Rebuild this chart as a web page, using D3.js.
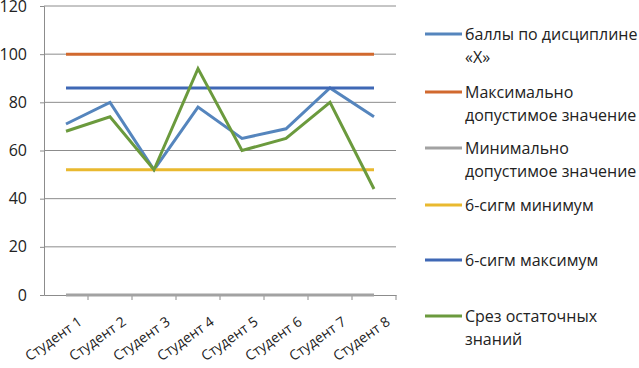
<!DOCTYPE html>
<html>
<head>
<meta charset="utf-8">
<script src="https://cdn.jsdelivr.net/npm/d3@7"></script>
<style>
  body { margin: 0; background: #fff; }
  text { font-family: "Open Sans", sans-serif; fill: #222; }
</style>
</head>
<body>
<svg id="chart" width="639" height="368"></svg>
<script>
const students = ['Студент 1', 'Студент 2', 'Студент 3', 'Студент 4', 'Студент 5', 'Студент 6', 'Студент 7', 'Студент 8']
const yTicks = [0, 20, 40, 60, 80, 100, 120]

const scores = [71, 80, 52, 78, 65, 69, 86, 74]
const maxAllowed = [100, 100, 100, 100, 100, 100, 100, 100]
const minAllowed = [0, 0, 0, 0, 0, 0, 0, 0]
const sigmaMin = [52, 52, 52, 52, 52, 52, 52, 52]
const sigmaMax = [86, 86, 86, 86, 86, 86, 86, 86]
const residual = [68, 74, 52, 94, 60, 65, 80, 44]

const series = [
  { name: ['баллы по дисциплине', '«Х»'], values: scores, color: '#5585bd', ly: 34 },
  { name: ['Максимально', 'допустимое значение'], values: maxAllowed, color: '#d1692e', ly: 92 },
  { name: ['Минимально', 'допустимое значение'], values: minAllowed, color: '#a2a2a2', ly: 148 },
  { name: ['6-сигм минимум'], values: sigmaMin, color: '#e9b92f', ly: 205 },
  { name: ['6-сигм максимум'], values: sigmaMax, color: '#3f68b5', ly: 260 },
  { name: ['Срез остаточных', 'знаний'], values: residual, color: '#6b9a3d', ly: 316 }
]

const svg = d3.select('#chart')
const plotLeft = 44, plotRight = 396, plotTop = 6, plotBottom = 295

const x = d3.scaleBand()
            .domain(students)
            .range([plotLeft, plotRight])

const y = d3.scaleLinear()
            .domain([0, 120])
            .range([plotBottom, plotTop])

// gridlines
svg.append('g')
   .selectAll('line')
   .data(yTicks.slice(1))
   .join('line')
   .attr('x1', plotLeft)
   .attr('x2', plotRight)
   .attr('y1', d => y(d))
   .attr('y2', d => y(d))
   .style('stroke', '#8c8c8c')
   .style('stroke-width', 1)

let yAxis = svg.append('g')
               .attr('transform', `translate(${plotLeft},0)`)
               .call(d3.axisLeft(y).tickValues(yTicks).tickSize(4).tickPadding(13))
yAxis.select('.domain').style('stroke', '#8c8c8c')
yAxis.selectAll('.tick line').style('stroke', '#8c8c8c')
yAxis.selectAll('.tick text')
     .style('font-size', '16px')
     .style('font-family', '"Open Sans", sans-serif')
     .style('fill', '#222')

let xAxis = svg.append('g')
               .attr('transform', `translate(0,${plotBottom})`)
               .call(d3.axisBottom(x).tickSize(0).tickFormat(''))
xAxis.select('.domain').style('stroke', '#8c8c8c')

// category boundary ticks
svg.append('g')
   .selectAll('line')
   .data(students)
   .join('line')
   .attr('x1', d => x(d) + x.bandwidth())
   .attr('x2', d => x(d) + x.bandwidth())
   .attr('y1', plotBottom)
   .attr('y2', plotBottom + 5)
   .style('stroke', '#8c8c8c')

svg.append('g')
   .selectAll('text')
   .data(students)
   .join('text')
   .text(d => d)
   .style('font-size', '14px')
   .style('text-anchor', 'end')
   .attr('transform', d => `translate(${x(d) + x.bandwidth() / 2 + 17},${plotBottom + 29})rotate(-35)`)

let lineGenerator = d3.line()
                      .x((d, i) => x(students[i]) + x.bandwidth() / 2)
                      .y(d => y(d))

series.forEach(s => {
  svg.append('path')
     .datum(s.values)
     .attr('d', lineGenerator)
     .style('fill', 'none')
     .style('stroke', s.color)
     .style('stroke-width', 3)
     .style('stroke-linejoin', 'miter')
})

// legend
let legend = svg.append('g')
series.forEach(s => {
  legend.append('line')
        .attr('x1', 425)
        .attr('x2', 462)
        .attr('y1', s.ly)
        .attr('y2', s.ly)
        .style('stroke', s.color)
        .style('stroke-width', 3)
  s.name.forEach((t, j) => {
    legend.append('text')
          .text(t)
          .attr('x', 465)
          .attr('y', s.ly + 6 + j * 23)
          .style('font-size', '16px')
  })
})
</script>
</body>
</html>
